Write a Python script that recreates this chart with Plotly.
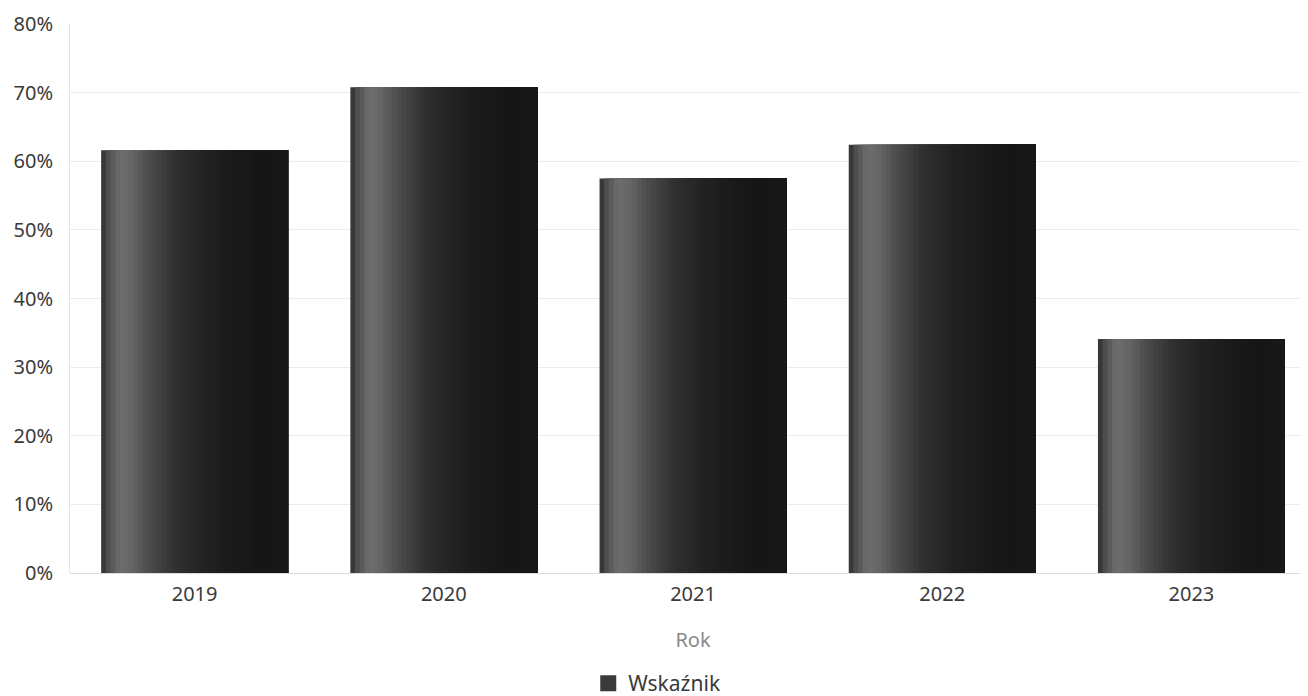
import plotly.graph_objects as go

years = ["2019", "2020", "2021", "2022", "2023"]
values = [61.6, 70.8, 57.5, 62.4, 34.1]
y_ticks = [0, 10, 20, 30, 40, 50, 60, 70, 80]
y_tick_labels = [f"{v}%" for v in y_ticks]
series_name = "Wskaźnik"
x_title = "Rok"

# horizontal shading profile (style only)
prof_t = [0.0, 0.04, 0.10, 0.17, 0.26, 0.40, 0.55, 0.70, 0.85, 1.0]
prof_v = [45, 80, 110, 100, 75, 48, 34, 26, 22, 24]

def shade(t):
    for i in range(len(prof_t) - 1):
        if prof_t[i] <= t <= prof_t[i + 1]:
            f = (t - prof_t[i]) / (prof_t[i + 1] - prof_t[i])
            v = prof_v[i] + f * (prof_v[i + 1] - prof_v[i])
            g = int(round(v))
            return f"rgb({g},{g},{g})"
    return "rgb(24,24,24)"

W = 0.75
N = 40
fig = go.Figure()
for k in range(N):
    start = -W / 2 + k * W / N
    fig.add_trace(go.Bar(
        x=years, y=values,
        offset=start, width=W / 2 - start,
        marker=dict(color=shade((k + 0.5) / N), line=dict(width=0)),
        name=series_name,
        showlegend=False,
        hovertemplate="%{x}: %{y}%<extra></extra>",
    ))
# legend entry
fig.add_trace(go.Scatter(
    x=[None], y=[None], name=series_name, mode="markers",
    marker=dict(symbol="square", size=16, color="rgb(58,58,58)", line=dict(width=0)),
    showlegend=True,
))

fig.update_layout(
    barmode="overlay",
    width=1308, height=696,
    margin=dict(l=62, r=0, t=16, b=121),
    paper_bgcolor="white", plot_bgcolor="white",
    font=dict(family="Noto Sans, Open Sans, sans-serif", size=20, color="#3a3a3a"),
    xaxis=dict(
        type="category", range=[-0.5, 4.5], automargin=False,
        title=dict(text=x_title, font=dict(size=20, color="#8a8a8a"), standoff=26),
        showgrid=False, showline=False, ticks="", ticklabelstandoff=7,
        tickfont=dict(size=20, color="#3a3a3a"),
    ),
    yaxis=dict(
        range=[0, 80], tickvals=y_ticks, ticktext=y_tick_labels, automargin=False,
        showgrid=True, gridcolor="#ececec", gridwidth=1,
        zeroline=True, zerolinecolor="#dcdcdc", zerolinewidth=1,
        showline=True, linecolor="#e4e4e4", linewidth=1,
        ticks="", ticklabelstandoff=12,
        tickfont=dict(size=20, color="#3a3a3a"),
    ),
    legend=dict(orientation="h", x=0.4713, xanchor="center", y=-0.2015, yanchor="middle",
                font=dict(size=21, color="#3a3a3a"), itemwidth=30),
)

fig.write_html("out.html")
